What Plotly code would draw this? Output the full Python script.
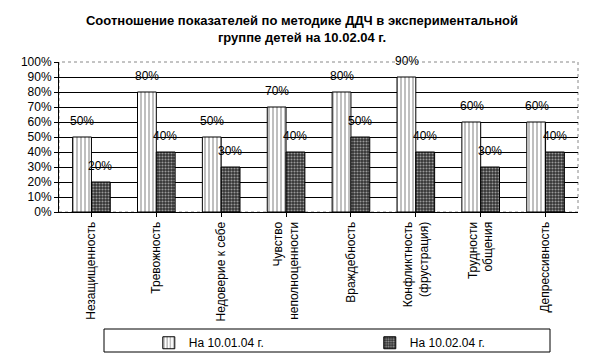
import plotly.graph_objects as go

categories = ["Незащищенность", "Тревожность", "Недоверие к себе",
              "Чувство<br>неполноценности", "Враждебность",
              "Конфликтность<br>(фрустрация)", "Трудности<br>общения", "Депрессивность"]
series1_name = "На 10.01.04 г."
series2_name = "На 10.02.04 г."
series1 = [50, 80, 50, 70, 80, 90, 60, 60]
series2 = [20, 40, 30, 40, 50, 40, 30, 40]
ytick_vals = list(range(0, 101, 10))
ytick_text = [f"{v}%" for v in ytick_vals]

font = "Liberation Sans, Arial, sans-serif"

fig = go.Figure()
fig.add_trace(go.Bar(
    x=categories, y=series1, name=series1_name,
    marker=dict(color="white", line=dict(color="black", width=1),
                pattern=dict(shape="|", fgcolor="black", bgcolor="white", size=4, solidity=0.25)),
))
fig.add_trace(go.Bar(
    x=categories, y=series2, name=series2_name,
    marker=dict(color="#333333", line=dict(color="black", width=1),
                pattern=dict(shape=".", fgcolor="white", bgcolor="#333333", size=3, solidity=0.4)),
))

# value labels above bars
for series, shift in ((series1, -9), (series2, 9)):
    for cat, v in zip(categories, series):
        fig.add_annotation(x=cat, y=v, text=f"{v}%", showarrow=False,
                           xshift=shift, yshift=7, yanchor="bottom",
                           font=dict(size=12, family=font, color="black"))

fig.update_layout(
    width=588, height=352,
    margin=dict(l=51, r=18, t=54, b=148, autoexpand=False),
    paper_bgcolor="white", plot_bgcolor="white",
    font=dict(family=font, size=12, color="black"),
    title=dict(text="<b>Соотношение показателей по методике ДДЧ в экспериментальной<br>группе детей на 10.02.04 г.</b>",
               x=0.5, xanchor="center", y=0.951, yanchor="top",
               font=dict(size=13, family=font, color="black")),
    barmode="group", bargap=0.42, bargroupgap=0,
    showlegend=True,
    legend=dict(orientation="h", x=0.173, xanchor="left", y=-0.775, yanchor="top",
                borderwidth=0, bgcolor="rgba(0,0,0,0)",
                entrywidth=176, entrywidthmode="pixels",
                font=dict(size=12, family=font), itemwidth=30),
)
fig.update_yaxes(range=[0, 100], tickvals=ytick_vals, ticktext=ytick_text,
                 showgrid=True, gridcolor="black", gridwidth=1,
                 showline=True, linecolor="black", linewidth=1,
                 ticks="outside", ticklen=4, tickcolor="black", automargin=False,
                 tickfont=dict(size=12, family=font), zeroline=False)
fig.update_xaxes(tickangle=-90, showline=True, linecolor="black", linewidth=1,
                 ticks="outside", ticklen=4, tickcolor="black", automargin=False,
                 tickfont=dict(size=12, family=font))
fig.add_shape(type="rect", xref="paper", yref="paper", x0=0, x1=1, y0=0, y1=1,
              line=dict(color="#888888", width=1, dash="dot"), layer="below")
# legend frame
fig.add_shape(type="rect", xref="paper", yref="paper",
              x0=(104 - 59) / 519, x1=(550 - 59) / 519,
              y0=(212 - 352) / 150, y1=(212 - 329) / 150,
              line=dict(color="black", width=1), layer="below")

fig.write_html("out.html")
